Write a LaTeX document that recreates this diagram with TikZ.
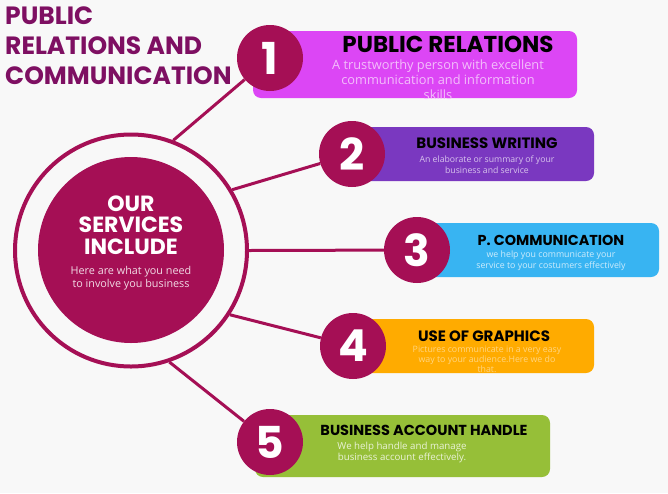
\documentclass[tikz,border=0pt]{standalone}
\usepackage{xcolor}
\usepackage{fontspec}
\setmainfont{Open Sans}
\newfontfamily\headfont{Poppins}
\usetikzlibrary{positioning}

\definecolor{crimson}{HTML}{A50F55}
\definecolor{titlepurple}{HTML}{7E0F62}
\definecolor{paper}{HTML}{F8F8F8}
\definecolor{barpink}{HTML}{DC46F5}
\definecolor{barviolet}{HTML}{7A38C0}
\definecolor{barblue}{HTML}{38B4F2}
\definecolor{baramber}{HTML}{FFAB00}
\definecolor{bargreen}{HTML}{96BF38}

\tikzset{
  numdot/.style = {circle, fill=crimson, text=white, minimum size=66pt, inner sep=0pt,
    font=\headfont\fontsize{44}{44}\bfseries},
  bar/.style = {rounded corners=8pt, minimum height=54pt, inner sep=0pt},
  link/.style = {draw=crimson, line width=3pt},
  heading/.style = {inner sep=0pt, text=black},
  blurb/.style = {inner sep=0pt, align=center},
  titleline/.style = {inner sep=0pt, anchor=base west, text=titlepurple,
    font=\headfont\fontsize{25}{25}\bfseries},
}

\begin{document}
\begin{tikzpicture}[x=1pt, y=-1pt]
    \useasboundingbox (0,0) rectangle (668,493);
    \fill[paper] (0,0) rectangle (668,493);

    \node[titleline] (title1) at (5,24) {PUBLIC};
    \node[titleline] (title2) at (5,54) {RELATIONS AND};
    \node[titleline] (title3) at (5,84) {COMMUNICATION};

    \node[bar, fill=barpink, minimum width=324pt, minimum height=67pt] (bar1) at (415,64.5) {};
    \node[bar, fill=barviolet, minimum width=244pt] (bar2) at (472,154) {};
    \node[bar, fill=barblue, minimum width=238pt] (bar3) at (540,250) {};
    \node[bar, fill=baramber, minimum width=244pt] (bar4) at (472,346) {};
    \node[bar, fill=bargreen, minimum width=295pt, minimum height=62pt] (bar5) at (402.5,446) {};

    \node[circle, draw=crimson, line width=4pt, minimum size=232pt, inner sep=0pt] (ring) at (131,250.5) {};
    \node[circle, fill=crimson, minimum size=186pt, inner sep=0pt] (hub) at (131,250) {};

    \node[numdot] (num1) at (270,58) {1};
    \node[numdot] (num2) at (352,154) {2};
    \node[numdot] (num3) at (417,250) {3};
    \node[numdot] (num4) at (353,346) {4};
    \node[numdot] (num5) at (270,442) {5};

    \draw[link] (ring.69) -- (num1);
    \draw[link] (ring.31) -- (num2);
    \draw[link] (ring.0) -- (num3);
    \draw[link] (ring.-33) -- (num4);
    \draw[link] (ring.-71) -- (num5);

    \node[inner sep=0pt, align=center, text=white, font=\headfont\fontsize{22}{21.5}\bfseries] (hubtitle) at (131,225)
      {OUR\\SERVICES\\INCLUDE};
    \node[blurb, text=white!85!crimson, font=\fontsize{10.8}{12.5}\selectfont] (hubtext) at (131,278)
      {Here are what you need\\to involve you business};

    \node[heading, font=\headfont\fontsize{23}{23}\bfseries] (head1) at (448,44.5) {PUBLIC RELATIONS};
    \node[blurb, text=white!65!barpink, font=\fontsize{12.8}{15}\selectfont] (text1) at (438,79.5)
      {A trustworthy person with excellent\\communication and information\\skills};

    \node[heading, font=\headfont\fontsize{15}{15}\bfseries] (head2) at (487,143) {BUSINESS WRITING};
    \node[blurb, text=white!70!barviolet, font=\fontsize{8.7}{11}\selectfont] (text2) at (487,164.5)
      {An elaborate or summary of your\\business and service};

    \node[heading, font=\headfont\fontsize{14.4}{14.4}\bfseries] (head3) at (551,240) {P. COMMUNICATION};
    \node[blurb, text=white!75!barblue, font=\fontsize{8.8}{11}\selectfont] (text3) at (551,260.5)
      {we help you communicate your\\service to your costumers effectively};

    \node[heading, font=\headfont\fontsize{15}{15}\bfseries] (head4) at (484,336) {USE OF GRAPHICS};
    \node[blurb, text=white!50!baramber, font=\fontsize{8.8}{10}\selectfont] (text4) at (487,359)
      {Pictures communicate in a very easy\\way to your audience.Here we do\\that.};

    \node[heading, font=\headfont\fontsize{14.5}{14.5}\bfseries] (head5) at (424,430) {BUSINESS ACCOUNT HANDLE};
    \node[blurb, text=white!80!bargreen, font=\fontsize{9.7}{11}\selectfont] (text5) at (402,452.5)
      {We help handle and manage\\business account effectively.};
\end{tikzpicture}
\end{document}
